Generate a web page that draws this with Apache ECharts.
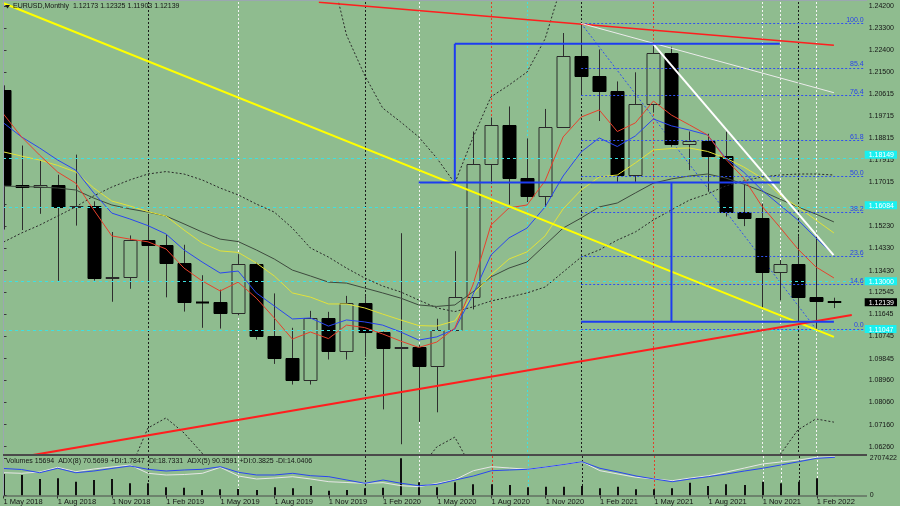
<!DOCTYPE html>
<html><head><meta charset="utf-8">
<script src="https://cdn.jsdelivr.net/npm/echarts@6/dist/echarts.min.js"></script>
<style>html,body{margin:0;padding:0;background:#8fbc8f;}#c{width:900px;height:506px;}</style>
</head><body><div id="c"></div>
<script>
// ---------- DATA ----------
const months = ['2018-05','2018-06','2018-07','2018-08','2018-09','2018-10','2018-11','2018-12',
 '2019-01','2019-02','2019-03','2019-04','2019-05','2019-06','2019-07','2019-08','2019-09','2019-10','2019-11','2019-12',
 '2020-01','2020-02','2020-03','2020-04','2020-05','2020-06','2020-07','2020-08','2020-09','2020-10','2020-11','2020-12',
 '2021-01','2021-02','2021-03','2021-04','2021-05','2021-06','2021-07','2021-08','2021-09','2021-10','2021-11','2021-12',
 '2022-01','2022-02','2022-03'];
const opens = [1.2078,1.1693,1.1684,1.1690,1.1603,1.1604,1.1312,1.1317,1.1467,1.1448,1.1372,1.1217,1.1215,1.1169,1.1370,1.1078,
 1.0986,1.0899,1.1151,1.1016,1.1213,1.1093,1.1026,1.1031,1.0955,1.1103,1.1234,1.1777,1.1936,1.1720,1.1646,1.1927,
 1.2216,1.2136,1.2074,1.1730,1.2020,1.2228,1.1858,1.1870,1.1808,1.1580,1.1558,1.1337,1.1370,1.1235,1.12173];
const highs = [1.2097,1.1852,1.1791,1.1733,1.1815,1.1625,1.1500,1.1486,1.1570,1.1489,1.1448,1.1324,1.1265,1.1410,1.1375,1.1250,
 1.1110,1.1179,1.1175,1.1240,1.1239,1.1095,1.1495,1.1040,1.1147,1.1422,1.1909,1.1966,1.2011,1.1881,1.2001,1.2310,
 1.2349,1.2243,1.2113,1.2150,1.2266,1.2254,1.1909,1.1900,1.1909,1.1692,1.1616,1.1386,1.1483,1.1495,1.12325];
const lows = [1.1510,1.1508,1.1574,1.1301,1.1526,1.1302,1.1216,1.1269,1.1289,1.1234,1.1176,1.1110,1.1107,1.1160,1.1062,1.0963,
 1.0879,1.0879,1.0981,1.0981,1.0992,1.0778,1.0636,1.0727,1.0766,1.1096,1.1185,1.1696,1.1612,1.1622,1.1603,1.1924,
 1.2054,1.1952,1.1704,1.1704,1.1986,1.1847,1.1752,1.1664,1.1563,1.1524,1.1186,1.1222,1.1121,1.1106,1.11903];
const closes = [1.1693,1.1684,1.1690,1.1603,1.1604,1.1312,1.1317,1.1467,1.1448,1.1372,1.1217,1.1215,1.1169,1.1370,1.1078,1.0986,
 1.0899,1.1151,1.1016,1.1213,1.1093,1.1026,1.1031,1.0955,1.1103,1.1234,1.1777,1.1936,1.1720,1.1646,1.1927,1.2216,
 1.2136,1.2074,1.1730,1.2020,1.2228,1.1858,1.1870,1.1808,1.1580,1.1558,1.1337,1.1370,1.1235,1.1218,1.12139];
const volumes = [1565000,1492000,1201000,1252000,1004000,1128000,1201000,888000,888000,597000,568000,400000,451000,473000,400000,597000,
 524000,691000,349000,400000,524000,568000,2707422,961000,597000,961000,815000,815000,764000,597000,640000,640000,
 691000,524000,640000,451000,451000,524000,932000,691000,815000,764000,1004000,888000,1004000,1252000,15694];
const maRed = [1.1980,1.1887,1.1813,1.1744,1.1699,1.1590,1.1484,1.1471,1.1460,1.1431,1.1353,1.1301,1.1260,1.1296,1.1231,1.1150,
 1.1064,1.1093,1.1066,1.1121,1.1111,1.1085,1.1056,1.1030,1.1052,1.1109,1.1284,1.1528,1.1598,1.1610,1.1708,1.1887,
 1.1968,1.1997,1.1909,1.1944,1.2033,1.1976,1.1936,1.1895,1.1797,1.1720,1.1606,1.1520,1.1431,1.1358,1.1313];
const maBlue = [1.1944,1.1887,1.1842,1.1793,1.1752,1.1659,1.1577,1.1553,1.1526,1.1492,1.1427,1.1378,1.1333,1.1341,1.1252,1.1199,
 1.1146,1.1150,1.1117,1.1142,1.1134,1.1121,1.1093,1.1060,1.1073,1.1105,1.1244,1.1406,1.1476,1.1516,1.1602,1.1728,
 1.1826,1.1883,1.1848,1.1891,1.1960,1.1932,1.1915,1.1895,1.1801,1.1744,1.1671,1.1610,1.1549,1.1476,1.1406];
const maYellow = [1.1826,1.1809,1.1793,1.1771,1.1744,1.1679,1.1626,1.1606,1.1583,1.1565,1.1508,1.1455,1.1423,1.1417,1.1374,1.1321,
 1.1252,1.1235,1.1207,1.1207,1.1191,1.1166,1.1142,1.1119,1.1117,1.1138,1.1244,1.1325,1.1390,1.1419,1.1484,1.1594,
 1.1671,1.1724,1.1732,1.1781,1.1834,1.1840,1.1842,1.1828,1.1801,1.1765,1.1720,1.1651,1.1602,1.1549,1.1496];
const maGray = [1.1687,1.1685,1.1683,1.1679,1.1671,1.1638,1.1610,1.1594,1.1581,1.1565,1.1533,1.1500,1.1471,1.1461,1.1427,1.1390,
 1.1345,1.1321,1.1296,1.1292,1.1272,1.1252,1.1231,1.1203,1.1197,1.1203,1.1256,1.1317,1.1353,1.1378,1.1447,1.1516,
 1.1557,1.1602,1.1618,1.1659,1.1699,1.1716,1.1728,1.1736,1.1720,1.1695,1.1667,1.1634,1.1602,1.1573,1.1541];
const bbMid = [1.1459,1.1496,1.1528,1.1565,1.1602,1.1647,1.1683,1.1712,1.1736,1.1746,1.1736,1.1712,1.1679,1.1651,1.1614,1.1581,
 1.1516,1.1435,1.1398,1.1353,1.1313,1.1280,1.1256,1.1223,1.1191,1.1176,1.1195,1.1219,1.1235,1.1252,1.1276,1.1337,
 1.1398,1.1427,1.1467,1.1500,1.1549,1.1590,1.1630,1.1655,1.1687,1.1708,1.1724,1.1732,1.1736,1.1736,1.1732];
const bbUpper = [null,null,null,null,null,null,null,null,null,null,null,null,null,null,null,null,
 null,null,1.2607,1.2302,1.2139,1.2005,1.1948,1.1887,1.1801,1.1699,1.1883,1.2050,1.2098,1.2151,1.2286,1.2526,
 null,null,null,null,null,null,null,null,null,null,null,null,null,null,null];
const bbLower = [null,null,null,null,null,null,null,1.0531,1.0702,1.0743,1.0682,1.0600,1.0450,null,null,null,
 null,null,null,null,null,null,null,1.0531,1.0625,1.0665,1.0531,null,null,null,null,null,
 null,null,null,null,null,null,null,null,null,null,1.0450,1.0592,1.0694,1.0739,1.0726];
const adx8 = [68.4,65.8,57.7,68.9,57.7,62.0,68.4,74.7,66.3,62.0,64.6,66.3,72.9,58.7,51.9,51.9,
 56.2,50.1,47.6,39.2,30.9,39.2,30.9,24.8,28.4,39.2,49.4,62.8,64.6,66.3,72.2,78.5,
 85.6,68.9,59.5,49.4,41.8,34.9,41.8,47.6,54.4,62.0,68.9,77.2,85.6,94.2,96.7];
const adx5 = [57.7,56.2,59.5,71.4,60.3,67.1,72.2,77.2,56.2,51.9,53.2,56.2,71.4,49.4,41.8,44.3,
 47.6,41.8,34.9,32.9,30.9,32.4,24.8,22.3,30.9,40.5,62.8,72.9,69.6,66.3,72.2,78.5,
 85.6,62.8,54.4,46.1,41.8,37.5,44.3,50.1,59.5,69.6,79.8,84.8,89.9,96.7,98.2];
const yTicks = [1.24200,1.23300,1.22400,1.21500,1.20615,1.19715,1.18815,1.17915,1.17015,1.16115,1.15230,1.14330,
 1.13430,1.12545,1.11645,1.10745,1.09845,1.08960,1.08060,1.07160,1.06260];
const dateTickIdx = [0,3,6,9,12,15,18,21,24,27,30,33,36,39,42,45];
const dateTickText = ['1 May 2018','1 Aug 2018','1 Nov 2018','1 Feb 2019','1 May 2019','1 Aug 2019','1 Nov 2019','1 Feb 2020',
 '1 May 2020','1 Aug 2020','1 Nov 2020','1 Feb 2021','1 May 2021','1 Aug 2021','1 Nov 2021','1 Feb 2022'];
const volTicks = [0, 2707422];
const cyanLevels = [1.18149, 1.16084, 1.13000, 1.11047];
const lastPrice = 1.12139;
const fibHigh = 1.2349, fibLow = 1.1106, fibStartIdx = 32, fibEndIdx = 45;
const fibRatios = [0, 14.6, 23.6, 38.2, 50.0, 61.8, 76.4, 85.4, 100.0];
// vertical separators: [bar index, kind] kind 0 = black, 1 = white, 2 = red, 3 = cyan
const separators = [[8,0],[20,0],[32,0],[44,0],[13,1],[23,1],[42,1],[43,1],[45,1],[27,2],[36,2],[29,3]];
const trendYellow = [[-0.03, 1.2432], [46.0, 1.1073]];
const trendRedLow = [[1.63, 1.0592], [46.99, 1.1162]];
const trendRedHigh = [[17.47, 1.2435], [46.0, 1.2260]];
const trendWhiteThin = [[32, 1.2349], [46.0, 1.2067]];
const trendWhiteThick = [[35.96, 1.2268], [45.98, 1.1406]];
const boxTop = [[25, 1.2266], [43, 1.2266]];
const boxLeft = [[25, 1.2266], [25, 1.1702]];
const boxMid = [[23, 1.1702], [43, 1.1702]];
const boxRight = [[37, 1.1702], [37, 1.1135]];
const boxBottom = [[32, 1.1135], [46, 1.1135]];
const titleText = 'EURUSD,Monthly  1.12173 1.12325 1.11903 1.12139';
const volText = 'Volumes 15694  ADX(8) 70.5699 +DI:1.7847 -DI:18.7331  ADX(5) 90.3591 +DI:0.3825 -DI:14.0406';

// ---------- CHART ----------
const FONT = '"Liberation Sans", Arial, sans-serif';
const BG = '#8fbc8f';
const SEP_COLORS = ['#1c1c1c', '#f4f4f4', '#e0402a', '#3fe0e0'];
const xMin = -0.028, xMax = 47.65, yMin = 1.059628, yMax = 1.243628;
const chart = echarts.init(document.getElementById('c'), null, {renderer: 'canvas'});

const candleData = months.map((m, i) => [i, opens[i], closes[i], lows[i], highs[i]]);
const pairs = arr => arr.map((v, i) => [i, v]);

function renderCandle(params, api) {
  const i = api.value(0), o = api.value(1), c = api.value(2), l = api.value(3), h = api.value(4);
  const pO = api.coord([i, o]), pC = api.coord([i, c]), pL = api.coord([i, l]), pH = api.coord([i, h]);
  const w = Math.round(api.size([1, 0])[0] * 0.72);
  const x = Math.round(pO[0]) + 0.5;
  const top = Math.round(Math.min(pO[1], pC[1])) + 0.5, bot = Math.round(Math.max(pO[1], pC[1])) + 0.5;
  const bull = c > o;
  const wickCol = '#2e2e2e';
  const children = [
    {type: 'line', shape: {x1: x, y1: pH[1], x2: x, y2: top}, style: {stroke: wickCol, lineWidth: 1}},
    {type: 'line', shape: {x1: x, y1: bot, x2: x, y2: pL[1]}, style: {stroke: wickCol, lineWidth: 1}}
  ];
  if (bot - top < 1) {
    children.push({type: 'line', shape: {x1: x - w / 2, y1: top, x2: x + w / 2, y2: top}, style: {stroke: '#000', lineWidth: 2}});
  } else {
    children.push({type: 'rect', shape: {x: x - w / 2, y: top, width: w, height: bot - top},
      style: bull ? {fill: BG, stroke: '#2a2a2a', lineWidth: 1} : {fill: '#000', stroke: '#000', lineWidth: 1}});
  }
  return {type: 'group', children};
}
function renderVol(params, api) {
  const i = api.value(0), v = api.value(1);
  const p0 = api.coord([i, 0]), p1 = api.coord([i, v]);
  const x = Math.round(p0[0]);
  return {type: 'line', shape: {x1: x, y1: p0[1], x2: x, y2: p1[1]}, style: {stroke: '#101010', lineWidth: 2}};
}
function renderSep(params, api) {
  const cs = params.coordSys;
  const x = Math.round(api.coord([api.value(0), api.value(2)])[0]) + 0.5;
  return {type: 'line', shape: {x1: x, y1: cs.y, x2: x, y2: cs.y + cs.height},
    style: {stroke: SEP_COLORS[api.value(1)], lineWidth: 1, lineDash: [2, 2]}};
}
function sepSeries(xi, yi, yRef) {
  return {type: 'custom', xAxisIndex: xi, yAxisIndex: yi, data: separators.map(s => [s[0], s[1], yRef]),
    renderItem: renderSep, encode: {x: 0, y: 2}, z: 1, silent: true};
}

function trend(data, color, width, z, type) {
  return {type: 'line', xAxisIndex: 0, yAxisIndex: 0, data, showSymbol: false, symbol: 'none', silent: true,
    lineStyle: {color, width, type: type || 'solid'}, z, clip: true};
}
function maLine(arr, color, type) {
  return {type: 'line', xAxisIndex: 0, yAxisIndex: 0, data: pairs(arr), showSymbol: false, symbol: 'none', silent: true,
    connectNulls: false, lineStyle: {color, width: 1, type: type || 'solid'}, z: 4, clip: true};
}

const fibRange = fibHigh - fibLow;
const fibMarks = fibRatios.map(r => {
  const lv = fibLow + fibRange * r / 100;
  return [{coord: [fibStartIdx, lv], label: {formatter: r.toFixed(1)}}, {coord: [xMax, lv]}];
});

const option = {
  animation: false,
  backgroundColor: BG,
  grid: [
    {left: 3, right: 33, top: 2, height: 452},
    {left: 3, right: 33, top: 456, height: 39.5}
  ],
  xAxis: [
    {gridIndex: 0, type: 'value', min: xMin, max: xMax, show: false},
    {gridIndex: 1, type: 'value', min: xMin, max: xMax, splitLine: {show: false},
      axisLine: {show: false},
      axisTick: {show: true, customValues: dateTickIdx, length: 3, lineStyle: {color: '#333'}},
      axisLabel: {customValues: dateTickIdx, formatter: v => dateTickText[dateTickIdx.indexOf(Math.round(v))],
        align: 'left', margin: 2, fontSize: 7.5, fontFamily: FONT, color: '#151515'}}
  ],
  yAxis: [
    {gridIndex: 0, type: 'value', position: 'right', min: yMin, max: yMax, splitLine: {show: false},
      axisLine: {show: true, lineStyle: {color: '#3a3a3a', width: 1}},
      axisTick: {show: true, customValues: yTicks, length: 3, lineStyle: {color: '#3a3a3a'}},
      axisLabel: {customValues: yTicks, formatter: v => v.toFixed(5), fontSize: 7, fontFamily: FONT, color: '#151515', margin: 5}},
    {gridIndex: 0, type: 'value', position: 'right', min: yMin, max: yMax, splitLine: {show: false},
      axisLine: {show: false}, axisTick: {show: false},
      axisLabel: {customValues: cyanLevels.concat([lastPrice]), margin: 1,
        formatter: v => (Math.abs(v - lastPrice) < 1e-7 ? '{k|' : '{c|') + v.toFixed(5) + '}',
        rich: {
          c: {backgroundColor: '#19f0f0', color: '#ffffff', fontSize: 7, fontFamily: FONT, padding: [1, 3, 0, 4], lineHeight: 8},
          k: {backgroundColor: '#000000', color: '#ffffff', fontSize: 7, fontFamily: FONT, padding: [1, 3, 0, 4], lineHeight: 8}
        }}},
    {gridIndex: 1, type: 'value', position: 'right', min: 0, max: 2874810, splitLine: {show: false},
      axisLine: {show: true, lineStyle: {color: '#3a3a3a', width: 1}},
      axisTick: {show: true, customValues: volTicks, length: 3, lineStyle: {color: '#3a3a3a'}},
      axisLabel: {customValues: volTicks, formatter: v => String(Math.round(v)), fontSize: 7, fontFamily: FONT, color: '#151515', margin: 5}},
    {gridIndex: 1, type: 'value', min: 0, max: 100, show: false}
  ],
  series: [
    sepSeries(0, 0, 1.15),
    sepSeries(1, 2, 1000000),
    {type: 'line', xAxisIndex: 0, yAxisIndex: 0, data: [[-50, 0]], showSymbol: false, silent: true, z: 1,
      markLine: {symbol: 'none', silent: true, animation: false, label: {show: false},
        data: cyanLevels.map(v => ({yAxis: v, lineStyle: {color: '#3fe0e0', type: [3, 3], width: 1}}))}},
    {type: 'line', xAxisIndex: 0, yAxisIndex: 0, data: [[fibStartIdx, fibHigh], [fibEndIdx, fibLow]], showSymbol: false, symbol: 'none',
      silent: true, z: 2, lineStyle: {color: '#3050f0', width: 1, type: [2, 2]},
      markLine: {symbol: 'none', silent: true, animation: false,
        lineStyle: {color: '#3050f0', width: 1, type: [2, 2]},
        label: {show: true, position: 'insideEndTop', distance: [0, 0], color: '#2a44e8', fontSize: 7, fontFamily: FONT},
        data: fibMarks}},
    {type: 'custom', xAxisIndex: 0, yAxisIndex: 0, data: candleData, renderItem: renderCandle, encode: {x: 0, y: [1, 2, 3, 4]}, z: 3, silent: true, clip: true},
    maLine(bbMid, '#2a2a2a', [2, 2]),
    maLine(bbUpper, '#2a2a2a', [2, 2]),
    maLine(bbLower, '#2a2a2a', [2, 2]),
    maLine(maGray, '#3e4a3e'),
    maLine(maYellow, '#e2e23a'),
    maLine(maBlue, '#2a46f0'),
    maLine(maRed, '#e8402c'),
    trend(trendYellow, '#ffff00', 2, 5),
    trend(trendRedLow, '#ff1e1e', 2, 5),
    trend(trendRedHigh, '#ff1e1e', 1.6, 5),
    trend(trendWhiteThin, '#ececec', 1, 5),
    trend(trendWhiteThick, '#ffffff', 2, 5),
    trend(boxTop, '#1d3cf0', 2, 5),
    trend(boxLeft, '#1d3cf0', 2, 5),
    trend(boxMid, '#1d3cf0', 2, 5),
    trend(boxRight, '#1d3cf0', 2, 5),
    trend(boxBottom, '#1d3cf0', 2, 5),
    {type: 'custom', xAxisIndex: 1, yAxisIndex: 2, data: pairs(volumes), renderItem: renderVol, encode: {x: 0, y: 1}, z: 3, silent: true, clip: true},
    {type: 'line', xAxisIndex: 1, yAxisIndex: 3, data: pairs(adx5), showSymbol: false, symbol: 'none', silent: true,
      lineStyle: {color: '#e6e6e6', width: 1}, z: 4},
    {type: 'line', xAxisIndex: 1, yAxisIndex: 3, data: pairs(adx8), showSymbol: false, symbol: 'none', silent: true,
      lineStyle: {color: '#2a46f0', width: 1}, z: 4}
  ],
  graphic: [
    {type: 'line', shape: {x1: 3.5, y1: 0, x2: 3.5, y2: 496}, style: {stroke: '#9ba7b0', lineWidth: 1}, z: 50},
    {type: 'line', shape: {x1: 3, y1: 0.5, x2: 867, y2: 0.5}, style: {stroke: '#9ba7b0', lineWidth: 1}, z: 50},
    {type: 'line', shape: {x1: 3, y1: 455, x2: 867, y2: 455}, style: {stroke: '#4a4a4a', lineWidth: 2}, z: 50},
    {type: 'line', shape: {x1: 3, y1: 496, x2: 867, y2: 496}, style: {stroke: '#4a4a4a', lineWidth: 1}, z: 50},
    {type: 'polygon', shape: {points: [[5, 5], [10, 5], [7.5, 8.5]]}, style: {fill: '#1a1a1a'}, z: 50},
    {type: 'text', left: 13, top: 3, style: {text: titleText, font: '7px ' + FONT, fill: '#151515'}, z: 50},
    {type: 'text', left: 6, top: 458, style: {text: volText, font: '7px ' + FONT, fill: '#151515'}, z: 50}
  ]
};
chart.setOption(option);
</script></body></html>
